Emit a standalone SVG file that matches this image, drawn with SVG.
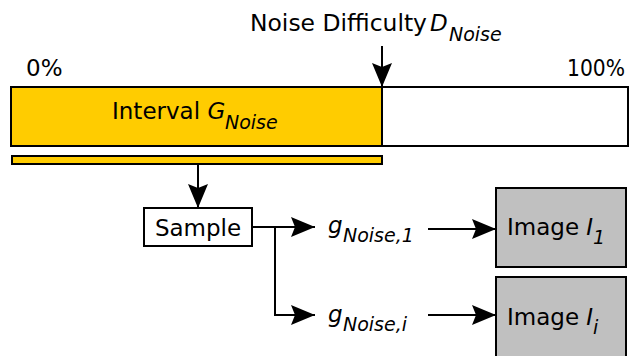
<svg xmlns="http://www.w3.org/2000/svg" width="632" height="356" viewBox="0 0 632 356">
<defs>
<style>
text{font-family:"DejaVu Sans","Noto Sans",sans-serif;font-size:23px;fill:#000}
.it{font-style:italic}
.sub{font-size:19px;font-style:italic}
.box{stroke:#000;stroke-width:2}
.yel{fill:#ffcc00}
.gray{fill:#c0c0c0}
.wht{fill:#fff}
.con{fill:none;stroke:#000;stroke-width:2}
</style>
<marker id="ah" markerUnits="userSpaceOnUse" markerWidth="24" markerHeight="20" refX="24" refY="10" orient="auto" viewBox="0 0 24 20">
<path d="M0,0 L24,10 L0,20 L4,10 Z" fill="#000"/>
</marker>
</defs>
<g id="top-label">
<text x="250" y="31" textLength="177" lengthAdjust="spacingAndGlyphs">Noise Difficulty</text>
<text x="430" y="31" class="it">D</text>
<text x="449" y="41" class="sub">Noise</text>
</g>
<g id="label-0"><text x="26" y="76">0%</text></g>
<g id="label-100"><text x="567" y="76" textLength="58" lengthAdjust="spacingAndGlyphs">100%</text></g>
<g id="bar">
<rect x="11" y="87" width="617" height="59" class="box wht"/>
<rect x="11" y="87" width="371" height="59" class="box yel"/>
<text x="112" y="119">Interval <tspan class="it">G</tspan></text>
<text x="225" y="129" class="sub">Noise</text>
</g>
<g id="sample-bar">
<rect x="12" y="156" width="370" height="8" class="box yel"/>
</g>
<g id="sample">
<rect x="144" y="208" width="108" height="38" class="box wht"/>
<text x="198" y="236" text-anchor="middle">Sample</text>
</g>
<g id="g1">
<text x="328" y="233" class="it">g</text>
<text x="343" y="242" class="sub">Noise,1</text>
</g>
<g id="gi">
<text x="328" y="322" class="it">g</text>
<text x="343" y="331" class="sub">Noise,i</text>
</g>
<g id="image1">
<rect x="496" y="188" width="130" height="79" class="box gray"/>
<text x="507" y="235">Image <tspan class="it">I</tspan></text>
<text x="593" y="244" class="sub">1</text>
</g>
<g id="imagei">
<rect x="496" y="277" width="130" height="90" class="box gray"/>
<text x="507" y="325">Image <tspan class="it">I</tspan></text>
<text x="593" y="334" class="sub">i</text>
</g>
<g id="connectors">
<line x1="382" y1="46" x2="382" y2="87" class="con" marker-end="url(#ah)"/>
<line x1="198" y1="164" x2="198" y2="208" class="con" marker-end="url(#ah)"/>
<polyline points="252,227 315,227" class="con" marker-end="url(#ah)"/>
<polyline points="275,227 275,315 315,315" class="con" marker-end="url(#ah)"/>
<line x1="428" y1="229" x2="496" y2="229" class="con" marker-end="url(#ah)"/>
<line x1="428" y1="315" x2="496" y2="315" class="con" marker-end="url(#ah)"/>
</g>
</svg>
